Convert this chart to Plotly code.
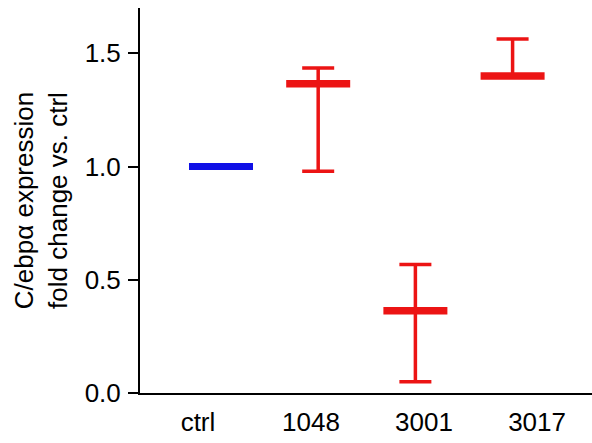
import plotly.graph_objects as go

categories = ["ctrl", "1048", "3001", "3017"]
means = [1.00, 1.365, 0.363, 1.400]
err_plus = [0.0, 0.07, 0.204, 0.163]
err_minus = [0.0, 0.386, 0.313, 0.0]
y_ticks = [0.0, 0.5, 1.0, 1.5]
y_ticktext = ["0.0", "0.5", "1.0", "1.5"]

RED = "#ec1414"
BLUE = "#1010e6"
FONT = "Liberation Sans, Arial, sans-serif"

idx = list(range(len(categories)))
BAR_SIZE = 64 / 1.4  # line-ew marker is drawn 1.4x its size

fig = go.Figure()

# ctrl (blue, no error)
fig.add_trace(go.Scatter(
    x=idx[:1], y=means[:1], mode="markers",
    marker=dict(symbol="line-ew", size=BAR_SIZE, line=dict(width=7, color=BLUE), color=BLUE),
    showlegend=False, hoverinfo="skip",
))

# treated (red, with asymmetric error bars)
fig.add_trace(go.Scatter(
    x=idx[1:], y=means[1:], mode="markers",
    marker=dict(symbol="line-ew", size=BAR_SIZE, line=dict(width=7.5, color=RED), color=RED),
    error_y=dict(type="data", symmetric=False, array=err_plus[1:], arrayminus=err_minus[1:],
                 color=RED, thickness=3.5, width=16),
    showlegend=False, hoverinfo="skip",
))

# label positions (evenly spaced, offset from the data columns as in the original)
tick_start, tick_step = -0.237, 1.163
tickvals = [tick_start + tick_step * i for i in idx]

fig.update_layout(
    width=592, height=443,
    margin=dict(l=140, r=0, t=8, b=50),
    paper_bgcolor="white", plot_bgcolor="white",
    font=dict(family=FONT, size=26, color="black"),
    xaxis=dict(
        range=[-0.8333, 3.817], showgrid=False, zeroline=False,
        showline=True, linecolor="black", linewidth=2,
        tickmode="array", tickvals=tickvals, ticktext=categories,
        ticks="", tickfont=dict(size=26), ticklabelstandoff=5,
    ),
    yaxis=dict(
        range=[0, 1.7], showgrid=False, zeroline=False,
        showline=True, linecolor="black", linewidth=2,
        tickmode="array", tickvals=y_ticks, ticktext=y_ticktext,
        ticks="outside", ticklen=10, tickwidth=2, tickcolor="black",
        tickfont=dict(size=26), ticklabelstandoff=2,
        title=dict(text="C/ebpα expression<br>fold change vs. ctrl", font=dict(size=26), standoff=10),
    ),
)

fig.write_html("out.html")
